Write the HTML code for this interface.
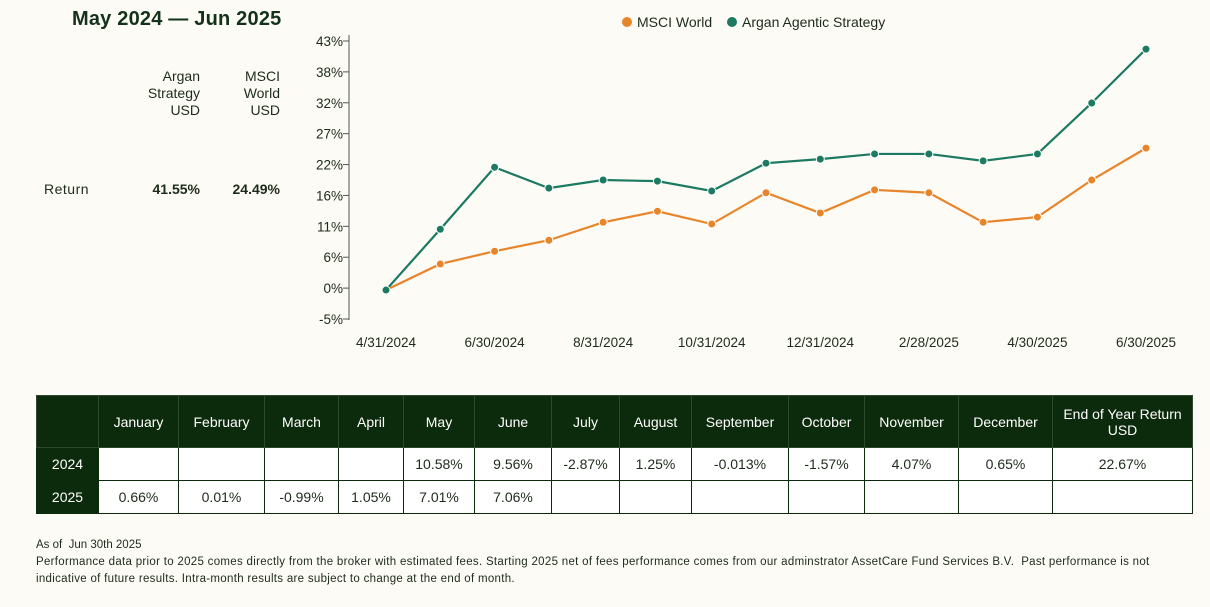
<!DOCTYPE html>
<html><head><meta charset="utf-8"><style>
body{margin:0;width:1210px;height:607px;background:#fcfbf6;font-family:"Liberation Sans",sans-serif;color:#1d2b1a;position:relative;overflow:hidden}
.abs{position:absolute}
table{border-collapse:collapse;position:absolute;left:36px;top:395px;width:1156px;font-size:14px;table-layout:fixed}
td,th{text-align:center;border:1.5px solid #0c2a0c;padding:0}
th{background:#0c2a0c;color:#fff;font-weight:normal;height:51px;border-color:#2e4a2e}
td{height:32px;background:#fff}
td.yr{background:#0c2a0c;color:#fff}
.foot{left:36px;font-size:11.5px;line-height:17px;white-space:nowrap}
</style></head><body>
<div class="abs" style="left:72px;top:8px;font-size:20px;font-weight:bold;color:#14321a;letter-spacing:0.2px">May 2024 — Jun 2025</div>
<div class="abs" style="left:120px;top:68px;width:80px;text-align:right;font-size:14px;line-height:17px">Argan<br>Strategy<br>USD</div>
<div class="abs" style="left:200px;top:68px;width:80px;text-align:right;font-size:14px;line-height:17px">MSCI<br>World<br>USD</div>
<div class="abs" style="left:44px;top:181px;font-size:14px;letter-spacing:0.5px">Return</div>
<div class="abs" style="left:120px;top:181px;width:80px;text-align:right;font-size:14px;font-weight:bold">41.55%</div>
<div class="abs" style="left:200px;top:181px;width:80px;text-align:right;font-size:14px;font-weight:bold">24.49%</div>
<svg id="chart" class="abs" style="left:0;top:0" width="1210" height="380"></svg>
<table>
<colgroup><col style="width:62px"><col style="width:80px"><col style="width:86px"><col style="width:74px"><col style="width:65px"><col style="width:71px"><col style="width:77px"><col style="width:68px"><col style="width:72px"><col style="width:97px"><col style="width:76px"><col style="width:94px"><col style="width:94px"><col style="width:140px"></colgroup>
<tr><th></th><th>January</th><th>February</th><th>March</th><th>April</th><th>May</th><th>June</th><th>July</th><th>August</th><th>September</th><th>October</th><th>November</th><th>December</th><th>End of Year Return<br>USD</th></tr>
<tr><td class="yr">2024</td><td></td><td></td><td></td><td></td><td>10.58%</td><td>9.56%</td><td>-2.87%</td><td>1.25%</td><td>-0.013%</td><td>-1.57%</td><td>4.07%</td><td>0.65%</td><td>22.67%</td></tr>
<tr><td class="yr">2025</td><td>0.66%</td><td>0.01%</td><td>-0.99%</td><td>1.05%</td><td>7.01%</td><td>7.06%</td><td></td><td></td><td></td><td></td><td></td><td></td><td></td></tr>
</table>
<div class="abs foot" style="top:537px">As of &nbsp;Jun 30th 2025</div>
<div class="abs foot" style="top:554px;letter-spacing:0.3px">Performance data prior to 2025 comes directly from the broker with estimated fees. Starting 2025 net of fees performance comes from our adminstrator AssetCare Fund Services B.V. &nbsp;Past performance is not<br>indicative of future results. Intra-month results are subject to change at the end of month.</div>
<script>
const xLabels=["4/31/2024","","6/30/2024","","8/31/2024","","10/31/2024","","12/31/2024","","2/28/2025","","4/30/2025","","6/30/2025"];
const argan=[0,10.5,21.2,17.6,19.0,18.8,17.1,21.9,22.6,23.5,23.5,22.3,23.5,32.3,41.6];
const msci=[0,4.5,6.7,8.6,11.7,13.6,11.4,16.8,13.3,17.3,16.8,11.7,12.6,19.0,24.5];
const yTicks=["43%","38%","32%","27%","22%","16%","11%","6%","0%","-5%"];
const yMin=-5,yMax=43;
const svg=document.getElementById('chart');
const NS='http://www.w3.org/2000/svg';
const X=i=>386+i*(1146-386)/(xLabels.length-1);
const Y=v=>319-(v-yMin)/(yMax-yMin)*278;
function mk(t,a){const e=document.createElementNS(NS,t);for(const k in a)e.setAttribute(k,a[k]);svg.appendChild(e);return e;}
const ax=mk('line',{x1:349,y1:35,x2:349,y2:320,stroke:'#555',"stroke-width":1});


yTicks.forEach((t,i)=>{const y=41+i*278/(yTicks.length-1);
 const tk=mk('line',{x1:343,y1:y,x2:349,y2:y,stroke:'#555'});
 
 
 const tx=mk('text',{x:343,y:y+5,"text-anchor":"end","font-size":13.5,fill:'#1d2b1a',"font-family":"Liberation Sans, sans-serif"});tx.textContent=t;
 
 });
xLabels.forEach((t,i)=>{if(!t)return;const tx=mk('text',{x:X(i),y:347,"text-anchor":"middle","font-size":13.5,fill:'#1d2b1a',"font-family":"Liberation Sans, sans-serif"});tx.textContent=t;
 
 });
function series(d,c,n){const p=mk('polyline',{points:d.map((v,i)=>X(i)+','+Y(v)).join(' '),fill:'none',stroke:c,"stroke-width":2.2});
 
 
 d.forEach((v,i)=>{const ci=mk('circle',{cx:X(i),cy:Y(v),r:4,fill:c,stroke:'#fff',"stroke-width":1});
 
 });}
series(msci,'#e8852b','msci');
series(argan,'#1c7a62','argan');
[[627,'#e8852b','MSCI World','legend-msci'],[732,'#1c7a62','Argan Agentic Strategy','legend-argan']].forEach(l=>{
 const g=mk('g',{});
 
 
 const c=document.createElementNS(NS,'circle');c.setAttribute('cx',l[0]);c.setAttribute('cy',22);c.setAttribute('r',5);c.setAttribute('fill',l[1]);g.appendChild(c);
 const t=document.createElementNS(NS,'text');t.setAttribute('x',l[0]+10);t.setAttribute('y',27);t.setAttribute('font-size',14);t.setAttribute('fill','#1d2b1a');t.setAttribute('font-family','Liberation Sans, sans-serif');t.textContent=l[2];g.appendChild(t);});
</script>
</body></html>
